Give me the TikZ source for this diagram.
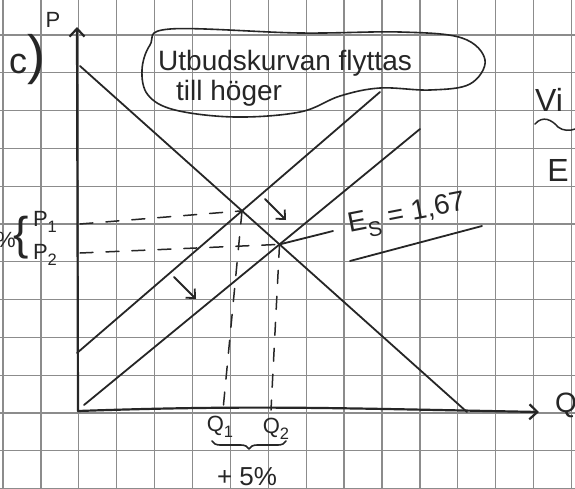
\documentclass[tikz,border=0pt]{standalone}
\usepackage{fontspec}
\setmainfont{Liberation Sans}
\usetikzlibrary{arrows.meta,decorations.pathreplacing}
\newcommand{\lowidx}[1]{\raisebox{-0.3em}{\scalebox{0.75}{#1}}}
\tikzset{
    ink/.style      = {draw=black!85, line width=1.8pt, line cap=round, line join=round},
    gridline/.style = {draw=black!45, line width=1.3pt},
    guide/.style    = {ink, line width=1.5pt, dash pattern=on 13pt off 13pt},
    hand/.style     = {text=black!85, inner sep=0pt, font=\fontsize{28}{30}\selectfont}
}
\begin{document}
\begin{tikzpicture}[
        x=1pt, y=-1pt,
        axis/.style={ink, line width=2.2pt, -{Straight Barb[length=8pt,width=15pt]}},
        shiftarrow/.style={ink, -{Straight Barb[length=7pt,width=13pt]}},
        small/.style={hand, font=\fontsize{22}{24}\selectfont},
        big/.style={hand, font=\fontsize{32}{34}\selectfont}
    ]
    \useasboundingbox (0,0) rectangle (575,488);
    \clip (0,0) rectangle (575,488);
    \fill[white] (0,0) rectangle (575,488);

    % --- Grid paper ---
    \foreach \gx in {0,...,15} \draw[gridline] (3+37.9*\gx, 0) -- (3+37.9*\gx, 488);
    \foreach \gy in {0,...,12} \draw[gridline] (0, 35+37.8*\gy) -- (575, 35+37.8*\gy);

    % --- Axes ---
    \coordinate (origin) at (78,411);
    \coordinate (p_top) at (77,27);
    \coordinate (q_end) at (539,412);
    \draw[axis] (origin) -- (p_top);
    \draw[axis] (origin) .. controls (250,405) and (330,408) .. (q_end);
    \node[small] (p_lbl) at (53,20) {P};
    \node[hand] (q_lbl) at (566,405) {Q};
    \node[hand, font=\fontsize{36}{38}\selectfont] (part_lbl) at (27,60) {c{\fontsize{54}{54}\selectfont)}};

    % --- Demand and supply curves ---
    \coordinate (d_top) at (80,66);
    \coordinate (d_bot) at (467,412);
    \coordinate (s1_low) at (77,353);
    \coordinate (s1_high) at (380,92);
    \coordinate (s2_low) at (84,405);
    \coordinate (s2_high) at (420,129);
    \draw[ink] (d_top) -- (d_bot);
    \draw[ink] (s1_low) -- (s1_high);
    \draw[ink] (s2_low) -- (s2_high);
    \coordinate (eq1) at (intersection of d_top--d_bot and s1_low--s1_high);
    \coordinate (eq2) at (intersection of d_top--d_bot and s2_low--s2_high);

    % --- Dashed read-offs to the axes ---
    \coordinate (p1_axis) at (80,224);
    \coordinate (p2_axis) at (80,253);
    \coordinate (q1_axis) at (223,410);
    \coordinate (q2_axis) at (271,410);
    \draw[guide] (p1_axis) -- (eq1);
    \draw[guide] (p2_axis) -- (eq2);
    \draw[guide] (eq1) -- (q1_axis);
    \draw[guide] (eq2) -- (q2_axis);

    % --- Price labels ---
    \node[small] (pct_lbl) at (6,240) {\%};
    \node[hand] (p_brace) at (21,238) {\fontsize{46}{46}\selectfont\{};
    \node[small] (p1_lbl) at (45,222) {P\lowidx{1}};
    \node[small] (p2_lbl) at (45,255) {P\lowidx{2}};

    % --- Quantity labels ---
    \node[small] (q1_lbl) at (220,427) {Q\lowidx{1}};
    \node[small] (q2_lbl) at (276,429) {Q\lowidx{2}};
    \coordinate (brace_l) at (212,441);
    \coordinate (brace_r) at (286,441);
    \draw[ink, line width=1.6pt, decorate, decoration={brace, amplitude=8pt, mirror}] (brace_l) -- (brace_r);
    \node[hand, font=\fontsize{26}{28}\selectfont] (growth_lbl) at (247,477) {+ 5\%};

    % --- Shift arrows ---
    \coordinate (s_arrow_a) at (174,277);
    \coordinate (s_arrow_b) at (196,299);
    \coordinate (d_arrow_a) at (265,199);
    \coordinate (d_arrow_b) at (286,220);
    \draw[shiftarrow] (s_arrow_a) -- (s_arrow_b);
    \draw[shiftarrow] (d_arrow_a) -- (d_arrow_b);

    % --- Note bubble ---
    \node[hand, anchor=base west] (shift_l1) at (158,70) {Utbudskurvan flyttas};
    \node[hand, anchor=base west] (shift_l2) at (176,100) {till höger};
    \draw[ink, line width=1.6pt] plot[smooth cycle, tension=0.6] coordinates {(170,29) (300,33) (400,32) (462,38) (485,60) (470,84) (430,90) (380,88) (340,96) (300,112) (235,117) (175,110) (148,95) (142,70) (150,45)};

    % --- Elasticity ---
    \node[hand, rotate=11] (es_lbl) at (407,216) {E\lowidx{S} = 1,67};
    \coordinate (es_ptr) at (333,231);
    \draw[ink] (eq2) -- (es_ptr);
    \coordinate (es_ul_a) at (350,261);
    \coordinate (es_ul_b) at (482,226);
    \draw[ink] (es_ul_a) -- (es_ul_b);

    % --- Right margin ---
    \node[big] (vi_lbl) at (549,100) {Vi};
    \draw[ink, line width=1.5pt] (535,124) .. controls (543,115) and (552,120) .. (558,127) .. controls (563,131) and (570,131) .. (575,129);
    \node[big] (e_lbl) at (558,170) {E};
\end{tikzpicture}
\end{document}
